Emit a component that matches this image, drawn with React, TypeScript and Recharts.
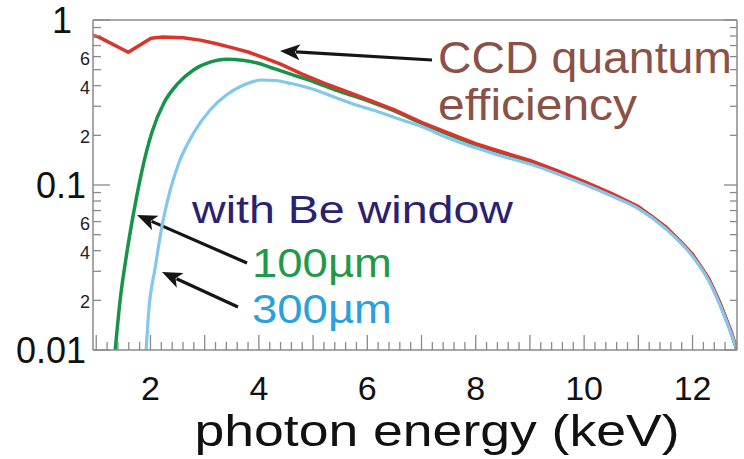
import { LineChart, Line, XAxis, YAxis, Label, Customized } from 'recharts';

// photon energy (keV) and efficiency
const ccdEnergy = [0.94, 1.04, 1.59, 2.01, 2.23, 2.6, 2.92, 3.2, 3.5, 3.8, 4.1, 4.4, 4.8, 5.2, 5.6, 6.0, 6.5, 7.0, 7.5, 8.0, 8.5, 9.0, 9.5, 10.0, 10.5, 11.0, 11.5, 12.0, 12.3, 12.5, 12.7, 12.82];
const ccdQE = [0.805, 0.79, 0.637, 0.774, 0.79, 0.78, 0.755, 0.72, 0.68, 0.64, 0.59, 0.54, 0.47, 0.415, 0.37, 0.33, 0.285, 0.24, 0.206, 0.178, 0.158, 0.141, 0.122, 0.105, 0.089, 0.074, 0.056, 0.038, 0.027, 0.0195, 0.0132, 0.01];

const be100Energy = [1.35, 1.44, 1.56, 1.69, 1.85, 2.03, 2.25, 2.5, 2.8, 3.1, 3.4, 3.7, 4.0, 4.3, 4.6, 4.9, 5.2, 5.5, 5.8, 6.1, 6.5, 7.0, 7.5, 8.0, 8.5, 9.0, 9.5, 10.0, 10.5, 11.0, 11.5, 12.0, 12.3, 12.5, 12.7, 12.82];
const be100QE = [0.01, 0.02, 0.038, 0.068, 0.125, 0.21, 0.315, 0.41, 0.5, 0.555, 0.578, 0.57, 0.545, 0.505, 0.468, 0.435, 0.4, 0.368, 0.342, 0.316, 0.281, 0.237, 0.203, 0.176, 0.156, 0.139, 0.12, 0.104, 0.088, 0.073, 0.0553, 0.0375, 0.0267, 0.0193, 0.0131, 0.01];

const be300Energy = [1.92, 1.96, 2.09, 2.22, 2.36, 2.52, 2.79, 3.1, 3.4, 3.65, 3.89, 4.05, 4.3, 4.6, 5.0, 5.4, 5.8, 6.2, 6.6, 7.0, 7.5, 8.0, 8.5, 9.0, 9.5, 10.0, 10.5, 11.0, 11.5, 12.0, 12.3, 12.5, 12.7, 12.82];
const be300QE = [0.01, 0.016, 0.032, 0.058, 0.092, 0.135, 0.205, 0.285, 0.351, 0.394, 0.423, 0.433, 0.43, 0.412, 0.38, 0.34, 0.305, 0.278, 0.25, 0.226, 0.192, 0.168, 0.149, 0.134, 0.117, 0.101, 0.086, 0.072, 0.0545, 0.037, 0.0263, 0.019, 0.0129, 0.01];

const xLabelTicks = [2, 4, 6, 8, 10, 12];
const yDecades = [0.01, 0.1, 1];
const yLabelSteps = [2, 4, 6];

const toPoints = (es: number[], vs: number[]) => es.map((e, i) => ({ e, v: vs[i] }));

const xTicks: number[] = [];
for (let i = 0; i <= 59; i++) xTicks.push(Number((1 + i * 0.2).toFixed(1)));

const yTicks: number[] = [];
yDecades.forEach((d) => {
  if (d === 1) { yTicks.push(1); return; }
  for (let s = 1; s <= 9; s++) yTicks.push(Number((d * s).toFixed(3)));
});

const AXIS = '#8a8a8a';
const FONT = '"Liberation Sans", Arial, sans-serif';

const isWhole = (v: number) => Math.abs(v - Math.round(v)) < 1e-6;

const logStep = (v: number) => {
  const exp = Math.floor(Math.log10(v) + 1e-9);
  return Math.round(v / Math.pow(10, exp));
};

const BottomTick = ({ x, y, payload }: any) => {
  const v = payload.value;
  const major = isWhole(v);
  return (
    <g>
      <line x1={x} x2={x} y1={y} y2={y - (major ? 15 : 8)} stroke={AXIS} strokeWidth={1.3} />
      {major && xLabelTicks.includes(Math.round(v)) && (
        <text x={x} y={y + 50} textAnchor="middle" fontSize={34} fontFamily={FONT} fill="#111">
          {Math.round(v)}
        </text>
      )}
    </g>
  );
};

const TopTick = ({ x, y, payload }: any) => {
  const major = isWhole(payload.value);
  return <line x1={x} x2={x} y1={y} y2={y + (major ? 15 : 8)} stroke={AXIS} strokeWidth={1.3} />;
};

const LeftTick = ({ x, y, payload }: any) => {
  const v = payload.value;
  const step = logStep(v);
  const major = step === 1;
  return (
    <g>
      <line x1={x} x2={x + (major ? 17 : 8)} y1={y} y2={y} stroke={AXIS} strokeWidth={1.3} />
      {major && (
        <text x={v === 1 ? x - 21 : x - 7} y={y + 13} textAnchor="end" fontSize={36} fontFamily={FONT} fill="#111">
          {String(v)}
        </text>
      )}
      {yLabelSteps.includes(step) && (
        <text x={x - 3} y={y + 8} textAnchor="end" fontSize={18} fontFamily={FONT} fill="#222">
          {step}
        </text>
      )}
    </g>
  );
};

const RightTick = ({ x, y, payload }: any) => {
  const major = logStep(payload.value) === 1;
  return <line x1={x} x2={x - (major ? 13 : 7)} y1={y} y2={y} stroke={AXIS} strokeWidth={1.3} />;
};

const Arrow = ({ x1, y1, x2, y2 }: { x1: number; y1: number; x2: number; y2: number }) => {
  const a = Math.atan2(y2 - y1, x2 - x1);
  const len = 20;
  const half = 8;
  const bx = x2 - len * Math.cos(a);
  const by = y2 - len * Math.sin(a);
  const px = -Math.sin(a) * half;
  const py = Math.cos(a) * half;
  return (
    <g>
      <line x1={x1} y1={y1} x2={bx + 4 * Math.cos(a)} y2={by + 4 * Math.sin(a)} stroke="#151515" strokeWidth={3.2} />
      <polygon points={`${x2},${y2} ${bx + px},${by + py} ${bx + 5 * Math.cos(a)},${by + 5 * Math.sin(a)} ${bx - px},${by - py}`} fill="#151515" />
    </g>
  );
};

const Annotations = () => (
  <g fontFamily={FONT}>
    <Arrow x1={432} y1={60} x2={280} y2={51} />
    <Arrow x1={247} y1={263} x2={137} y2={215} />
    <Arrow x1={238} y1={307} x2={162} y2={272} />
    <text x={438} y={73} fontSize={45} fill="#8a5246" textLength={294} lengthAdjust="spacingAndGlyphs">CCD quantum</text>
    <text x={438} y={120} fontSize={45} fill="#8a5246" textLength={199} lengthAdjust="spacingAndGlyphs">efficiency</text>
    <text x={192} y={223} fontSize={38} fill="#2b2170" textLength={321} lengthAdjust="spacingAndGlyphs">with Be window</text>
    <text x={252} y={277} fontSize={41} fill="#1f9a4a" textLength={140} lengthAdjust="spacingAndGlyphs">100µm</text>
    <text x={252} y={323} fontSize={41} fill="#2aa0dc" textLength={140} lengthAdjust="spacingAndGlyphs">300µm</text>
  </g>
);

const XTitle = ({ viewBox }: any) => (
  <text
    x={viewBox.x + viewBox.width / 2 + 22}
    y={viewBox.y + 96}
    textAnchor="middle"
    fontSize={44}
    fontFamily={FONT}
    fill="#111"
    textLength={485}
    lengthAdjust="spacingAndGlyphs"
  >
    photon energy (keV)
  </text>
);

export default function App() {
  return (
    <div style={{ width: 744, height: 459, background: '#fff' }}>
      <style>{'body{margin:0}'}</style>
      <LineChart width={744} height={459} margin={{ top: 0, right: 0, bottom: 0, left: 0 }}>
        <XAxis
          dataKey="e"
          type="number"
          domain={[0.94, 12.82]}
          allowDataOverflow
          ticks={xTicks}
          interval={0}
          height={109}
          tickSize={0}
          tickMargin={0}
          tickLine={false}
          axisLine={{ stroke: AXIS, strokeWidth: 1.5 }}
          tick={(p: any) => <BottomTick {...p} />}
        >
          <Label content={XTitle} />
        </XAxis>
        <XAxis
          xAxisId="top"
          orientation="top"
          type="number"
          domain={[0.94, 12.82]}
          allowDataOverflow
          ticks={xTicks}
          interval={0}
          height={20}
          tickSize={0}
          tickMargin={0}
          tickLine={false}
          axisLine={{ stroke: AXIS, strokeWidth: 1.5 }}
          tick={(p: any) => <TopTick {...p} />}
        />
        <YAxis
          type="number"
          scale="log"
          domain={[0.01, 1]}
          allowDataOverflow
          ticks={yTicks}
          interval={0}
          width={93}
          tickSize={0}
          tickMargin={0}
          tickLine={false}
          axisLine={{ stroke: AXIS, strokeWidth: 1.5 }}
          tick={(p: any) => <LeftTick {...p} />}
        />
        <YAxis
          yAxisId="right"
          orientation="right"
          type="number"
          scale="log"
          domain={[0.01, 1]}
          allowDataOverflow
          ticks={yTicks}
          interval={0}
          width={7}
          tickSize={0}
          tickMargin={0}
          tickLine={false}
          axisLine={{ stroke: AXIS, strokeWidth: 1.5 }}
          tick={(p: any) => <RightTick {...p} />}
        />
        <Line data={toPoints(be100Energy, be100QE)} dataKey="v" type="monotone" stroke="#17934a" strokeWidth={3.5} dot={false} activeDot={false} isAnimationActive={false} />
        <Line data={toPoints(ccdEnergy, ccdQE)} dataKey="v" type="linear" stroke="#d9352b" strokeWidth={3.5} strokeLinejoin="round" dot={false} activeDot={false} isAnimationActive={false} />
        <Line data={toPoints(be300Energy, be300QE)} dataKey="v" type="monotone" stroke="#84c6ec" strokeWidth={3.2} dot={false} activeDot={false} isAnimationActive={false} />
        <Customized component={Annotations} />
      </LineChart>
    </div>
  );
}
